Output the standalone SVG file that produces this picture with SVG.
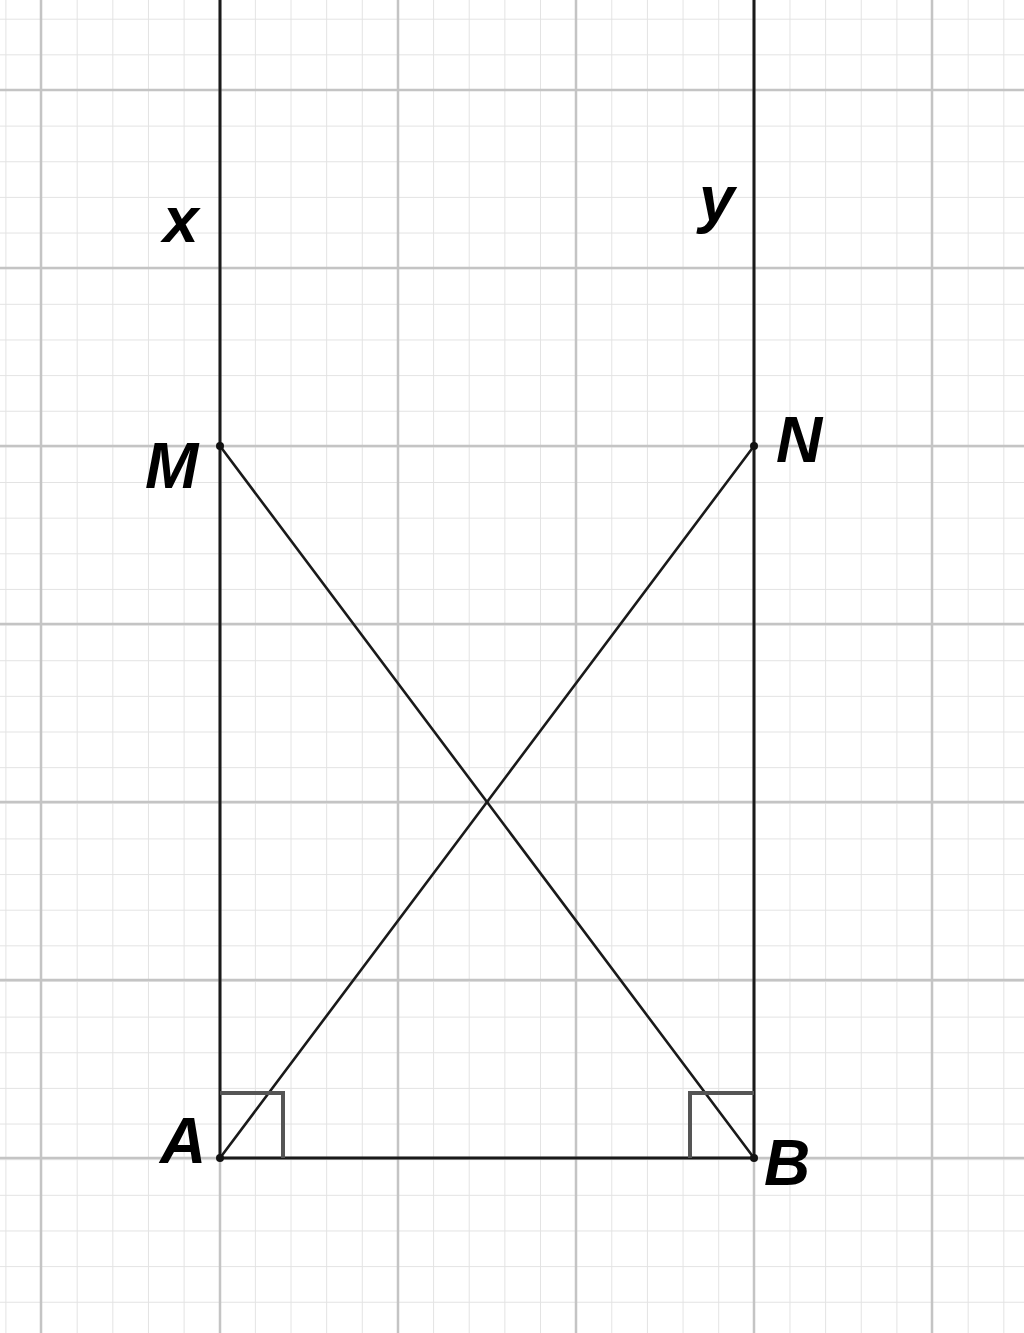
<svg xmlns="http://www.w3.org/2000/svg" width="1024" height="1333" viewBox="0 0 1024 1333">
<defs>
<pattern id="minor" x="5.4" y="18.7" width="35.64" height="35.64" patternUnits="userSpaceOnUse">
<path d="M0 0 V35.64 M0 0 H35.64" fill="none" stroke="#e3e3e3" stroke-width="2"/>
</pattern>
</defs>
<style>
.major{stroke:#c4c4c4;stroke-width:2.5;fill:none}
.ln{stroke:#1a1a1a;stroke-width:3;fill:none;stroke-linecap:round}
.diag{stroke:#1a1a1a;stroke-width:2.6;fill:none;stroke-linecap:round}
.ra{stroke:#555;stroke-width:4;fill:none}
.pt{fill:#111}
.lbl{font-family:"Liberation Sans",Arial,sans-serif;font-size:64px;font-weight:bold;font-style:italic;fill:#000}
</style>
<rect width="1024" height="1333" fill="#fff"/>
<rect width="1024" height="1333" fill="url(#minor)"/>
<g id="grid" class="major">
<path d="M41 0V1333M220 0V1333M398 0V1333M576 0V1333M754 0V1333M932 0V1333"/>
<path d="M0 90H1024M0 268H1024M0 446H1024M0 624H1024M0 802H1024M0 980H1024M0 1158H1024"/>
</g>
<g id="connectors">
<line class="ln" x1="220" y1="0" x2="220" y2="1158"/>
<line class="ln" x1="754" y1="0" x2="754" y2="1158"/>
<line class="ln" x1="220" y1="1158" x2="754" y2="1158"/>
<line class="diag" x1="220" y1="446" x2="754" y2="1158"/>
<line class="diag" x1="754" y1="446" x2="220" y2="1158"/>
<path class="ra" d="M220 1093H283V1158"/>
<path class="ra" d="M754 1093H690V1158"/>
</g>
<g id="node-x"><text class="lbl" x="163" y="242">x</text></g>
<g id="node-y"><text class="lbl" x="699" y="221">y</text></g>
<g id="node-M"><circle class="pt" cx="220" cy="446" r="4"/><text class="lbl" x="145" y="488">M</text></g>
<g id="node-N"><circle class="pt" cx="754" cy="446" r="4"/><text class="lbl" x="776" y="462">N</text></g>
<g id="node-A"><circle class="pt" cx="220" cy="1158" r="4"/><text class="lbl" x="160" y="1163">A</text></g>
<g id="node-B"><circle class="pt" cx="754" cy="1158" r="4"/><text class="lbl" x="764" y="1185">B</text></g>
</svg>
